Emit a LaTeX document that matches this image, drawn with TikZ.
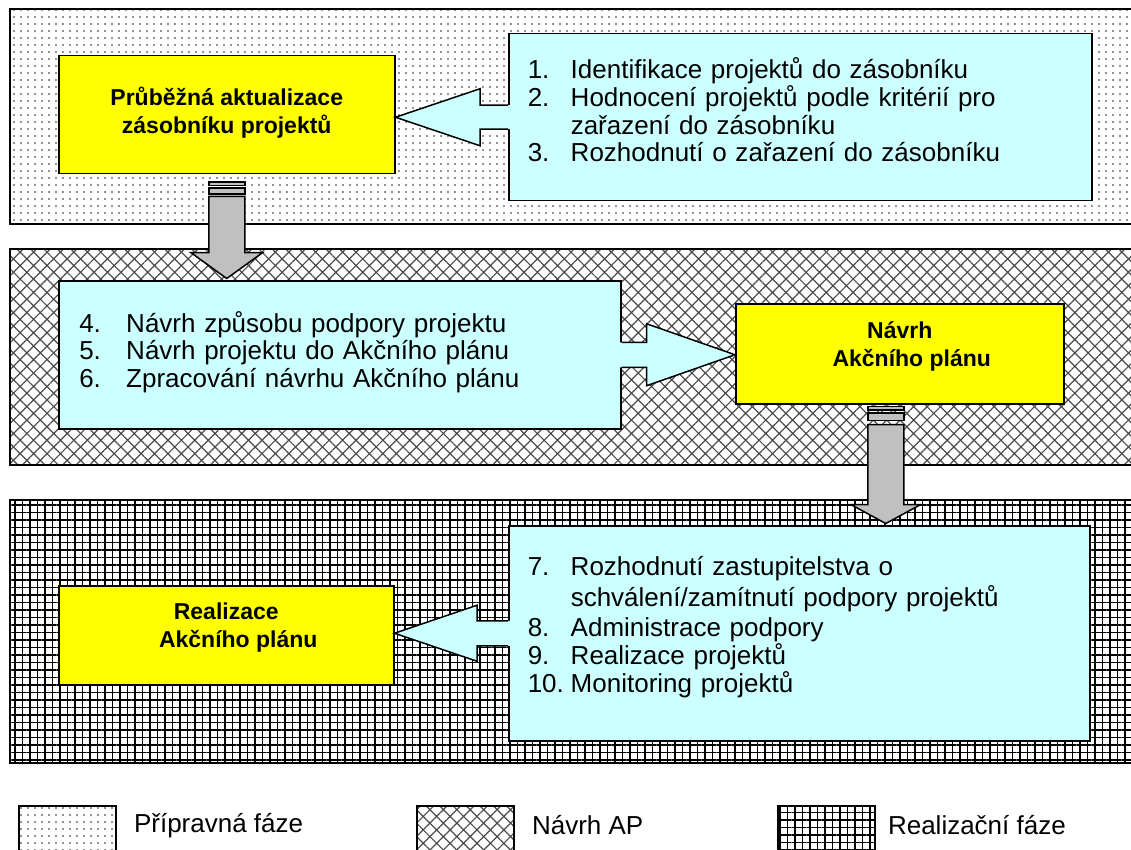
\documentclass[tikz,border=0pt]{standalone}
\usepackage{fontspec}
\setmainfont{Liberation Sans}
\usetikzlibrary{patterns.meta,positioning,calc}
\definecolor{goalyellow}{HTML}{FFFF00}
\definecolor{stepcyan}{HTML}{CCFFFF}
\definecolor{dropgray}{HTML}{C0C0C0}
\tikzstyle{phase}=[draw, line width=1.5pt]
\tikzstyle{drop}=[draw, line width=1.5pt, fill=dropgray, line join=miter]
\newcommand{\itemno}[2][43pt]{\makebox[#1][l]{#2}}

\begin{document}
\begin{tikzpicture}[x=1pt, y=-1pt,
    every node/.style={font=\fontsize{26}{27.7}\selectfont},
    stepbox/.style={draw, line width=1.5pt, fill=stepcyan, anchor=north west, inner xsep=19pt, align=left},
    goalbox/.style={draw, line width=1.5pt, fill=goalyellow, anchor=north west, align=center, inner sep=0pt,
        font=\fontsize{23}{28}\selectfont\bfseries},
    legendbox/.style={draw, line width=1.5pt, anchor=north west, minimum width=97pt, minimum height=47pt},
    dotted phase/.style={pattern={Dots[distance=7pt, radius=0.95pt]}, pattern color=black!85},
    hatched phase/.style={pattern={Hatch[angle=45, distance=9.5pt, line width=1.2pt]}, pattern color=black!70},
    grid phase/.style={pattern={Hatch[angle=0, distance=7.5pt, line width=1.6pt]}, pattern color=black},
    pointer/.style={line width=1.5pt, line join=miter}]

\useasboundingbox (0,0) rectangle (1131,850);

\draw[phase, dotted phase] (10,9) rectangle (1140,224);
\draw[phase, hatched phase] (10,249) rectangle (1140,465);
\draw[phase, grid phase] (10,500) rectangle (1140,763);

\node[stepbox, text width=545pt, minimum height=167pt] (c1) at (508,33) {%
    \itemno{1.}Identifikace projektů do zásobníku\\
    \itemno{2.}Hodnocení projektů podle kritérií pro\\
    \itemno{}zařazení do zásobníku\\
    \itemno{3.}Rozhodnutí o zařazení do zásobníku\rule[-15pt]{0pt}{1pt}};
\node[stepbox, text width=521pt, minimum height=148pt, inner xsep=20.5pt] (c2) at (58,280) {%
    \itemno[47pt]{4.}Návrh způsobu podpory projektu\\
    \itemno[47pt]{5.}Návrh projektu do Akčního plánu\\
    \itemno[47pt]{6.}Zpracování návrhu Akčního plánu\rule[-10.5pt]{0pt}{1pt}};
\node[stepbox, text width=543pt, minimum height=215pt] (c3) at (508,525) {%
    \itemno{7.}Rozhodnutí zastupitelstva o\\[3pt]
    \itemno{}schválení/zamítnutí podpory projektů\\[3pt]
    \itemno{8.}Administrace podpory\\
    \itemno{9.}Realizace projektů\\
    \itemno{10.}Monitoring projektů\rule[-18pt]{0pt}{1pt}};

\node[goalbox, minimum width=336pt, minimum height=118pt] (y1) at (58,55)
    {Průběžná aktualizace\\zásobníku projektů\rule[-9pt]{0pt}{1pt}};
\node[goalbox, minimum width=328pt, minimum height=100pt] (y2) at (735,303)
    {Návrh\\\hspace*{24pt}Akčního plánu\rule[-19pt]{0pt}{1pt}};
\node[goalbox, minimum width=335pt, minimum height=99pt] (y3) at (58,585)
    {Realizace\\\hspace*{24pt}Akčního plánu\rule[-20pt]{0pt}{1pt}};

\fill[stepcyan] ($(c1.west)+(2,-12)$) -- ++(-30,0) -- ++(0,-16.5) -- (y1.east |- c1.west)
    -- ($(c1.west)+(-28,28.5)$) -- ++(0,-16.5) -- ++(30,0) -- cycle;
\draw[pointer] ($(c1.west)+(0,-12)$) -- ++(-28,0) -- ++(0,-16.5) -- (y1.east |- c1.west)
    -- ($(c1.west)+(-28,28.5)$) -- ++(0,-16.5) -- ++(28,0);

\fill[stepcyan] ($(c2.east)+(-2,-12.5)$) -- ++(27,0) -- ++(0,-18.5) -- (y2.west |- c2.east)
    -- ($(c2.east)+(25,31)$) -- ++(0,-18.5) -- ++(-27,0) -- cycle;
\draw[pointer] ($(c2.east)+(0,-12.5)$) -- ++(25,0) -- ++(0,-18.5) -- (y2.west |- c2.east)
    -- ($(c2.east)+(25,31)$) -- ++(0,-18.5) -- ++(-25,0);

\fill[stepcyan] ($(c3.west)+(2,-12.5)$) -- ++(-33,0) -- ++(0,-15.5) -- (y3.east |- c3.west)
    -- ($(c3.west)+(-31,28)$) -- ++(0,-15.5) -- ++(33,0) -- cycle;
\draw[pointer] ($(c3.west)+(0,-12.5)$) -- ++(-31,0) -- ++(0,-15.5) -- (y3.east |- c3.west)
    -- ($(c3.west)+(-31,28)$) -- ++(0,-15.5) -- ++(31,0);

\coordinate (s1) at (y1.south);
\draw[drop] ($(s1)+(-18,7.7)$) rectangle ($(s1)+(18,11)$);
\draw[drop] ($(s1)+(-18,13.7)$) rectangle ($(s1)+(18,19.3)$);
\coordinate (t1) at ($(s1)+(0,104)$);
\draw[drop] ($(s1)+(-18,22)$) -- ($(s1)+(-18,78)$) -- ($(s1)+(-36,78)$) -- (t1)
    -- ($(s1)+(36,78)$) -- ($(s1)+(18,78)$) -- ($(s1)+(18,22)$) -- cycle;

\coordinate (s2) at ($(y2.south)+(-14,0)$);
\draw[drop] ($(s2)+(-18,2)$) rectangle ($(s2)+(18,5.3)$);
\draw[drop] ($(s2)+(-18,8.7)$) rectangle ($(s2)+(18,16)$);
\coordinate (t2) at ($(s2)+(0,119)$);
\draw[drop] ($(s2)+(-18,20)$) -- ($(s2)+(-18,100)$) -- ($(s2)+(-35,100)$) -- (t2)
    -- ($(s2)+(35,100)$) -- ($(s2)+(18,100)$) -- ($(s2)+(18,20)$) -- cycle;

\node[legendbox, dotted phase] (l1) at (18,805) {};
\node[right=14pt of l1, yshift=4pt] {Přípravná fáze};
\node[legendbox, hatched phase] (l2) at (416,805) {};
\node[right=14pt of l2, yshift=4pt] {Návrh AP};
\node[legendbox, grid phase] (l3) at (777,805) {};
\node[right=9pt of l3, yshift=4pt] {Realizační fáze};
\end{tikzpicture}
\end{document}
